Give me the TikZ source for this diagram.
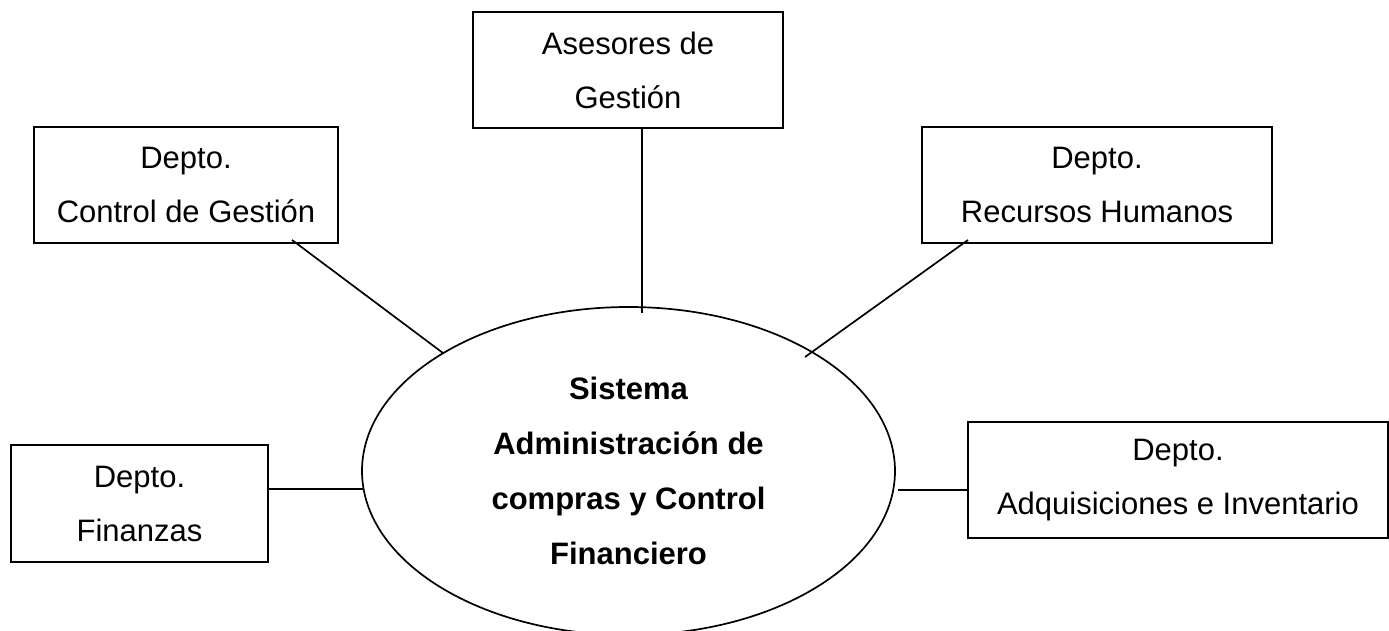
\documentclass[tikz,border=0pt]{standalone}
\usepackage{fontspec}
\setmainfont{Liberation Sans}
\usetikzlibrary{calc,shapes.geometric}
\begin{document}
\begin{tikzpicture}[x=0.5pt,y=-0.5pt,
  line width=0.85pt,
  txt/.style={font=\fontsize{15.5}{27}\selectfont, align=center},
  bx/.style 2 args={draw, rectangle, txt, outer sep=0pt, inner sep=0pt,
    minimum width=#1*0.5pt, minimum height=#2*0.5pt},
  conn/.style={draw, line width=0.85pt}]
\useasboundingbox (0,0) rectangle (1389,631);
\node[bx={310}{116}] (ases) at (628,70) {Asesores de\\Gestión};
\node[bx={304}{116}] (ctrl) at (186,185) {Depto.\\Control de Gestión};
\node[bx={350}{116}] (rec) at (1097,185) {Depto.\\Recursos Humanos};
\node[bx={257}{117}] (fin) at (139.5,503.5) {Depto.\\Finanzas};
\node[bx={420}{116}] (adq) at (1178,480) {Depto.\\Adquisiciones e Inventario};
\node[draw, ellipse, outer sep=0pt, inner sep=0pt, minimum width=533*0.5pt,
  minimum height=328*0.5pt, txt, font=\fontsize{15.5}{27.5}\selectfont\bfseries]
  (sys) at (628.5,471) {Sistema\\Administración de\\compras y Control\\Financiero};
\draw[conn] ($(ases.south)+(13.7,0)$) -- ($(sys.north)+(13.2,6)$);
\draw[conn] ($(ctrl.south east)+(-46,-3)$) -- ($(sys.center)+(-185.5,-118)$);
\draw[conn] ($(rec.south west)+(46,-3)$) -- ($(sys.center)+(-23.5,-114)+(200,0)$);
\draw[conn] ($(fin.east)+(0,-14.5)$) -- ($(sys.west)+(1.5,18)$);
\draw[conn] ($(sys.east)+(3,19)$) -- ($(adq.west)+(0,10)$);
\end{tikzpicture}
\end{document}
